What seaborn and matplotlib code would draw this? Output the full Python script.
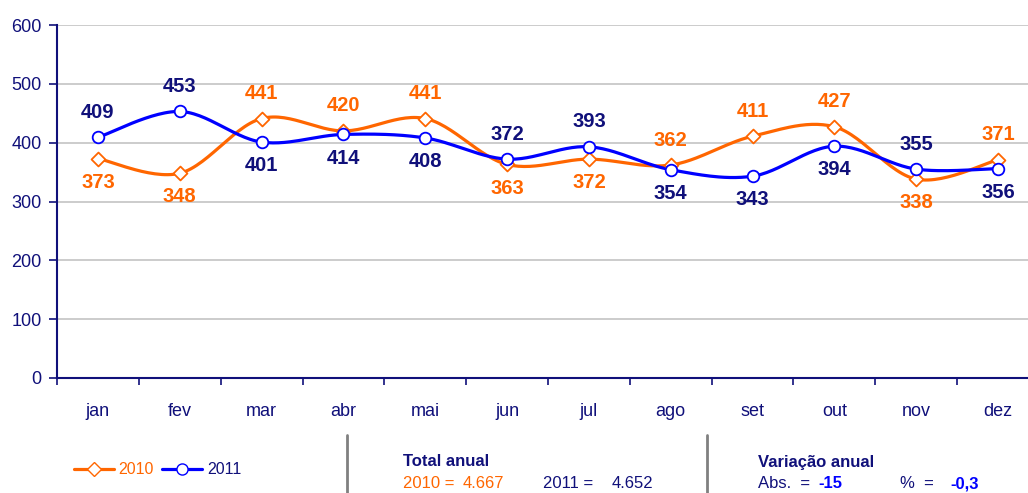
import numpy as np
import pandas as pd
import matplotlib
matplotlib.use("Agg")
import matplotlib.pyplot as plt
from matplotlib.lines import Line2D
import seaborn as sns

months = ["jan", "fev", "mar", "abr", "mai", "jun", "jul", "ago", "set", "out", "nov", "dez"]
vals_2010 = [373, 348, 441, 420, 441, 363, 372, 362, 411, 427, 338, 371]
vals_2011 = [409, 453, 401, 414, 408, 372, 393, 354, 343, 394, 355, 356]
pos_2010 = ["below", "below", "above", "above", "above", "below", "below", "above", "above", "above", "below", "above"]
pos_2011 = ["above", "above", "below", "below", "below", "above", "above", "below", "below", "below", "above", "below"]
yticks = [0, 100, 200, 300, 400, 500, 600]
total_2010 = "4.667"
total_2011 = "4.652"
var_abs = "-15"
var_pct = "-0,3"

ORANGE = "#FF6600"
BLUE = "#0000FF"
NAVY = "#10107A"

sns.set_theme(style="white")
plt.rcParams["font.family"] = ["Liberation Sans", "DejaVu Sans"]

fig = plt.figure(figsize=(10.28, 4.93), dpi=100)
ax = fig.add_axes([57 / 1028, 1 - 378 / 493, (1039 - 57) / 1028, (378 - 25) / 493])

xs = np.arange(len(months))


def smooth(x, y, sx=81.9, sy=0.588, n=30):
    px = np.asarray(x, float) * sx
    py = np.asarray(y, float) * sy
    P = np.column_stack([px, py])
    P = np.vstack([P[0], P, P[-1]])
    out = []
    for i in range(1, len(P) - 2):
        p0, p1, p2, p3 = P[i - 1], P[i], P[i + 1], P[i + 2]
        c1 = p1 + (p2 - p0) / 6
        c2 = p2 - (p3 - p1) / 6
        t = np.linspace(0, 1, n)[:, None]
        b = (1 - t) ** 3 * p1 + 3 * (1 - t) ** 2 * t * c1 + 3 * (1 - t) * t ** 2 * c2 + t ** 3 * p2
        out.append(b if i == 1 else b[1:])
    out = np.vstack(out)
    return out[:, 0] / sx, out[:, 1] / sy


for vals, col, mk, pos, lcol in [
    (vals_2010, ORANGE, "D", pos_2010, ORANGE),
    (vals_2011, BLUE, "o", pos_2011, NAVY),
]:
    sxv, syv = smooth(xs, vals)
    df = pd.DataFrame({"x": sxv, "y": syv})
    sns.lineplot(data=df, x="x", y="y", ax=ax, color=col, lw=2.3, sort=False, estimator=None)
    dfp = pd.DataFrame({"x": xs, "y": vals})
    sns.scatterplot(data=dfp, x="x", y="y", ax=ax, marker=mk, s=70 if mk == "o" else 50,
                    facecolor="white", edgecolor=col, linewidth=1.3, zorder=5)
    for xi, v, p in zip(xs, vals, pos):
        off = 18 if p == "above" else -17
        ax.annotate(str(v), (xi, v), xytext=(0, off), textcoords="offset points",
                    ha="center", va="center", fontsize=14.5, fontweight="bold", color=lcol)

ax.set_xlim(-0.5, len(months) - 0.5)
ax.set_ylim(0, 600)
ax.set_yticks(yticks)
ax.set_yticklabels([str(t) for t in yticks], fontsize=13, color=NAVY)
ax.set_xticks(np.arange(-0.5, len(months), 1.0))
ax.set_xticklabels([])
ax.set_xticks(xs, minor=True)
ax.set_xticklabels(months, minor=True, fontsize=13, color=NAVY)
ax.tick_params(axis="x", which="major", direction="out", length=5, width=1.2, color=NAVY, bottom=True)
ax.tick_params(axis="x", which="minor", length=0, pad=18)
ax.tick_params(axis="y", direction="out", length=6, width=1.2, color=NAVY, left=True, pad=5)
ax.set_xlabel("")
ax.set_ylabel("")
ax.grid(axis="y", color="#C8C8C8", lw=1.3)
ax.set_axisbelow(True)
for s in ["top", "right"]:
    ax.spines[s].set_visible(False)
for s in ["left", "bottom"]:
    ax.spines[s].set_color(NAVY)
    ax.spines[s].set_linewidth(1.5)

handles = [
    Line2D([], [], color=ORANGE, lw=2.3, marker="D", markersize=7, markerfacecolor="white", markeredgecolor=ORANGE),
    Line2D([], [], color=BLUE, lw=2.3, marker="o", markersize=8, markerfacecolor="white", markeredgecolor=BLUE),
]
leg = fig.legend(handles, ["2010", "2011"], loc="center left", bbox_to_anchor=(74 / 1028, 1 - 470 / 493),
                 ncol=2, frameon=False, fontsize=11.5, handlelength=2.5, handletextpad=0.3,
                 columnspacing=0.5, borderpad=0, borderaxespad=0)
leg.get_texts()[0].set_color(ORANGE)
leg.get_texts()[1].set_color(NAVY)

for xp in [347, 707]:
    fig.add_artist(Line2D([xp / 1028, xp / 1028], [0, 1 - 435 / 493], color="#808080", lw=2))

def ftext(x, y, s, **kw):
    fig.text(x / 1028, 1 - y / 493, s, va="center", ha="left", fontsize=12, **kw)

ftext(403, 461, "Total anual", color=NAVY, fontweight="bold")
ftext(403, 483, "2010 =", color=ORANGE)
ftext(463, 483, total_2010, color=ORANGE)
ftext(543, 483, "2011 =", color=NAVY)
ftext(612, 483, total_2011, color=NAVY)
ftext(758, 463, "Variação anual", color=NAVY, fontweight="bold")
ftext(758, 484, "Abs.  =", color=NAVY)
ftext(818, 484, var_abs, color=BLUE, fontweight="bold")
ftext(900, 484, "%  =", color=NAVY)
ftext(950, 484, var_pct, color=BLUE, fontweight="bold")

fig.savefig("out.png", dpi=100)
